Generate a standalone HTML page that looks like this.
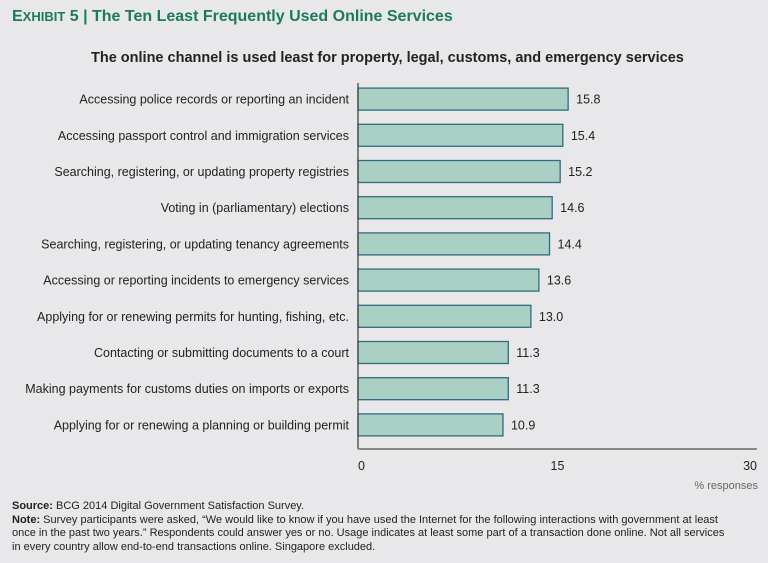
<!DOCTYPE html>
<html><head><meta charset="utf-8"><style>
body{margin:0;background:#e8e8ea;width:768px;height:563px;overflow:hidden;font-family:"Liberation Sans",sans-serif;}
#wrap{position:relative;width:768px;height:563px;}
.t{position:absolute;white-space:nowrap;}
</style></head><body><div id="wrap">
<div class="t" style="left:12px;top:8px;font-size:16px;font-weight:bold;color:#1b7a5a;">E<span style="font-size:13px">XHIBIT</span> 5 | The Ten Least Frequently Used Online Services</div>
<div class="t" style="left:91px;top:50px;font-size:14.5px;font-weight:bold;color:#222;">The online channel is used least for property, legal, customs, and emergency services</div>
<svg id="svg" width="768" height="563" style="position:absolute;left:0;top:0"></svg>
<div class="t" style="right:10px;top:480px;font-size:11px;color:#666;">% responses</div>
<div style="position:absolute;left:12px;top:500px;width:750px;font-size:11px;line-height:13.5px;color:#222;white-space:nowrap;"><b>Source:</b> BCG 2014 Digital Government Satisfaction Survey.<br><b>Note:</b> Survey participants were asked, “We would like to know if you have used the Internet for the following interactions with government at least<br>once in the past two years.” Respondents could answer yes or no. Usage indicates at least some part of a transaction done online. Not all services<br>in every country allow end-to-end transactions online. Singapore excluded.</div>
</div>
<script>
const categories=["Accessing police records or reporting an incident","Accessing passport control and immigration services","Searching, registering, or updating property registries","Voting in (parliamentary) elections","Searching, registering, or updating tenancy agreements","Accessing or reporting incidents to emergency services","Applying for or renewing permits for hunting, fishing, etc.","Contacting or submitting documents to a court","Making payments for customs duties on imports or exports","Applying for or renewing a planning or building permit"];
const values=[15.8,15.4,15.2,14.6,14.4,13.6,13.0,11.3,11.3,10.9];
const ticks=[0,15,30];
const svg=document.getElementById('svg');const NS='http://www.w3.org/2000/svg';
const x0=358,x1=757,yTop=83,yAxis=449;
const xs=v=>x0+(v-ticks[0])/(ticks[ticks.length-1]-ticks[0])*(x1-x0);
const step=(yAxis-yTop-4)/categories.length;
const yc=i=>yTop+step*(i+0.5)-2;
function mk(tag,a){const e=document.createElementNS(NS,tag);for(const k in a)e.setAttribute(k,a[k]);svg.appendChild(e);return e;}
categories.forEach((c,i)=>{
 const r=mk('rect',{x:x0,y:yc(i)-11,width:xs(values[i])-x0,height:22,fill:'#aacfc4',stroke:'#2f6b84','stroke-width':1.3});
 
 
 const l=mk('text',{x:349,y:yc(i)+4.5,'text-anchor':'end','font-size':12.5,fill:'#222','font-family':'Liberation Sans, sans-serif'});l.textContent=c;
 
 
 const v=mk('text',{x:xs(values[i])+8,y:yc(i)+4.5,'font-size':12.5,fill:'#222','font-family':'Liberation Sans, sans-serif'});v.textContent=values[i].toFixed(1);
 
 
});
const ya=mk('line',{x1:x0,y1:yTop,x2:x0,y2:yAxis,stroke:'#444','stroke-width':1.3});


const xa=mk('line',{x1:x0,y1:yAxis,x2:x1,y2:yAxis,stroke:'#888','stroke-width':2});


ticks.forEach((t,i)=>{const e=mk('text',{x:xs(t),y:470,'text-anchor':i==0?'start':(i==ticks.length-1?'end':'middle'),'font-size':12.5,fill:'#222','font-family':'Liberation Sans, sans-serif'});e.textContent=t;
 
 });
</script></body></html>
